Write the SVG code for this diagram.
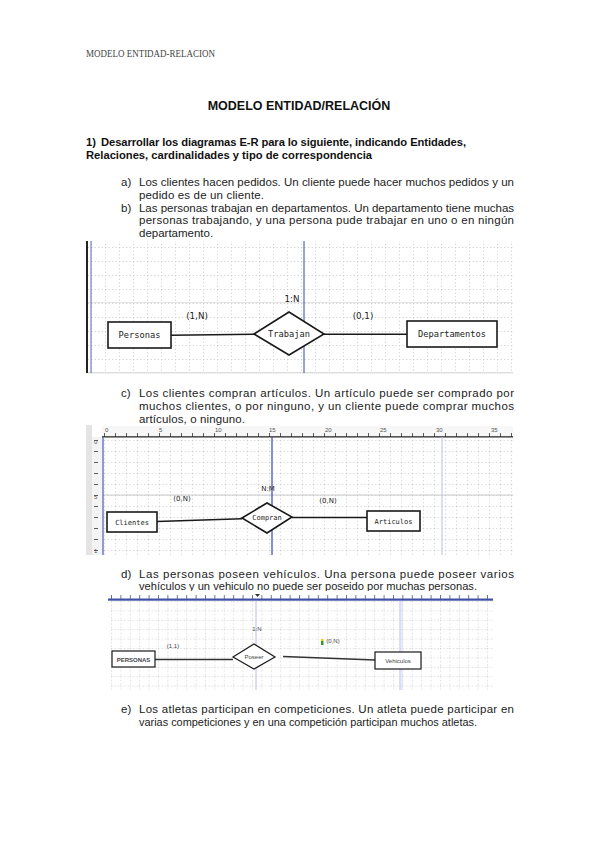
<svg xmlns="http://www.w3.org/2000/svg" width="599" height="848" viewBox="0 0 599 848">
<style>
.hdr{font-family:"Liberation Serif",serif;font-size:9.5px;fill:#444}
.ttl{font-family:"Liberation Sans",Arial,sans-serif;font-size:12.5px;font-weight:bold;fill:#111}
.q{font-family:"Liberation Sans",Arial,sans-serif;font-size:11.2px;font-weight:bold;fill:#111}
.p{font-family:"Liberation Sans",Arial,sans-serif;font-size:11.5px;fill:#222}
.m1{font-family:"DejaVu Sans Mono",monospace;font-size:8.7px;fill:#222}
.l1{font-family:"DejaVu Sans","DejaVu Sans Mono",sans-serif;font-size:8.7px;fill:#222}
.m2{font-family:"DejaVu Sans Mono",monospace;font-size:7px;fill:#222}
.l2{font-family:"DejaVu Sans",sans-serif;font-size:7px;fill:#222}
.s3{font-family:"Liberation Sans",Arial,sans-serif;font-size:6px;fill:#444}
.rn{font-family:"Liberation Sans",Arial,sans-serif;font-size:6px;fill:#555}
.ent{fill:#fff;stroke:#1a1a1a;stroke-width:1.6}
.ent3{fill:#fff;stroke:#1a1a1a;stroke-width:1.2}
.con{fill:none;stroke:#1a1a1a;stroke-width:1.6}
.con3{fill:none;stroke:#333;stroke-width:1.3}
</style>
<defs>
<pattern id="g1" x="91" y="247" width="14" height="14" patternUnits="userSpaceOnUse">
<path d="M0 0.5H14M0.5 0V14" fill="none" stroke="#c8c8c8" stroke-width="0.7" stroke-dasharray="1.5 2"/>
</pattern>
<pattern id="g2" x="104" y="440" width="11" height="11" patternUnits="userSpaceOnUse">
<path d="M0 0.5H11M0.5 0V11" fill="none" stroke="#cfcfcf" stroke-width="0.7" stroke-dasharray="1.5 2"/>
</pattern>
<pattern id="g3" x="111" y="601" width="9.4" height="9.4" patternUnits="userSpaceOnUse">
<path d="M0 0.5H9.4M0.5 0V9.4" fill="none" stroke="#d0d0d0" stroke-width="0.7" stroke-dasharray="1.5 2"/>
</pattern>
<pattern id="tk2" x="104" y="426" width="11" height="11" patternUnits="userSpaceOnUse">
<path d="M0.5 7V11" stroke="#333" stroke-width="0.8"/>
</pattern>
<pattern id="tk2v" x="0" y="440" width="11" height="11" patternUnits="userSpaceOnUse">
<path d="M6 0.5H10" stroke="#333" stroke-width="0.8"/>
</pattern>
<pattern id="tk3" x="111" y="591" width="9.4" height="8" patternUnits="userSpaceOnUse">
<path d="M0.5 4V8" stroke="#333" stroke-width="0.7"/>
</pattern>
<pattern id="tk3v" x="0" y="601" width="9.4" height="9.4" patternUnits="userSpaceOnUse">
<path d="M0 0.5H2.5" stroke="#333" stroke-width="0.7"/>
</pattern>
<pattern id="tk1v" x="0" y="247" width="7" height="7" patternUnits="userSpaceOnUse">
<path d="M0 0.5H3" stroke="#222" stroke-width="0.8"/>
</pattern>
</defs>

<rect width="599" height="848" fill="#fff"/>

<!-- page text -->
<text class="hdr" x="86" y="56.5" textLength="129" lengthAdjust="spacingAndGlyphs">MODELO ENTIDAD-RELACION</text>
<text class="ttl" x="299" y="110" text-anchor="middle">MODELO ENTIDAD/RELACIÓN</text>
<text class="q" x="86" y="146">1)</text>
<text class="q" x="101" y="146" textLength="365" lengthAdjust="spacing">Desarrollar los diagramas E-R para lo siguiente, indicando Entidades,</text>
<text class="q" x="86" y="159">Relaciones, cardinalidades y tipo de correspondencia</text>

<text class="p" x="121" y="186">a)</text>
<text class="p" x="139" y="186" textLength="375" lengthAdjust="spacing">Los clientes hacen pedidos. Un cliente puede hacer muchos pedidos y un</text>
<text class="p" x="139" y="198.5" textLength="125" lengthAdjust="spacing">pedido es de un cliente.</text>
<text class="p" x="121" y="211.5">b)</text>
<text class="p" x="139" y="211.5" textLength="375" lengthAdjust="spacing">Las personas trabajan en departamentos. Un departamento tiene muchas</text>
<text class="p" x="139" y="224" textLength="375" lengthAdjust="spacing">personas trabajando, y una persona pude trabajar en uno o en ningún</text>
<text class="p" x="139" y="236.5">departamento.</text>

<text class="p" x="121" y="397">c)</text>
<text class="p" x="139" y="397" textLength="375" lengthAdjust="spacing">Los clientes compran artículos. Un artículo puede ser comprado por</text>
<text class="p" x="139" y="410" textLength="375" lengthAdjust="spacing">muchos clientes, o por ninguno, y un cliente puede comprar muchos</text>
<text class="p" x="139" y="422.5" textLength="106" lengthAdjust="spacing">artículos, o ninguno.</text>

<text class="p" x="121" y="578">d)</text>
<text class="p" x="139" y="578" textLength="375" lengthAdjust="spacing">Las personas poseen vehículos. Una persona puede poseer varios</text>
<text class="p" x="139" y="590" textLength="338" lengthAdjust="spacingAndGlyphs">vehículos y un vehiculo no puede ser poseido por muchas personas.</text>

<text class="p" x="121" y="713">e)</text>
<text class="p" x="139" y="713" textLength="375" lengthAdjust="spacing">Los atletas participan en competiciones. Un atleta puede participar en</text>
<text class="p" x="139" y="726" textLength="338" lengthAdjust="spacingAndGlyphs">varias competiciones y en una competición participan muchos atletas.</text>

<!-- ============ Diagram 1 background ============ -->
<g id="canvas1">
<rect x="88" y="241" width="425" height="132" fill="url(#g1)"/>
<line x1="88" y1="302.5" x2="513" y2="302.5" stroke="#dcdcdc" stroke-width="0.8"/>
<line x1="88" y1="372.8" x2="513" y2="372.8" stroke="#cfcfcf" stroke-width="1"/>
<rect x="86" y="241" width="2" height="132" fill="#222"/>
<rect x="88" y="241" width="3" height="132" fill="url(#tk1v)"/>
<line x1="91" y1="241" x2="91" y2="373" stroke="#5a64c0" stroke-width="1"/>
<line x1="304" y1="241" x2="304" y2="373" stroke="#3a44b0" stroke-width="1"/>
</g>

<!-- ============ Diagram 2 background ============ -->
<g id="canvas2">
<rect x="86" y="425" width="427" height="130" fill="#fff"/>
<rect x="86" y="425" width="6" height="130" fill="#e4e4e4"/>
<rect x="92" y="437" width="10" height="118" fill="#f4f4f4"/>
<rect x="92" y="437" width="10" height="118" fill="url(#tk2v)"/>
<rect x="102" y="426" width="411" height="11" fill="#f7f7f7"/>
<rect x="102" y="426" width="411" height="11" fill="url(#tk2)"/>
<line x1="102" y1="436.8" x2="513" y2="436.8" stroke="#222" stroke-width="1.2"/>
<rect x="103" y="437" width="410" height="118" fill="url(#g2)"/>
<line x1="103" y1="495" x2="513" y2="495" stroke="#c8c8c8" stroke-width="1"/>
<line x1="103" y1="437" x2="103" y2="555" stroke="#4a54b8" stroke-width="1.2"/>
<line x1="272" y1="437" x2="272" y2="555" stroke="#3a44b0" stroke-width="1.2"/>
<line x1="442" y1="437" x2="442" y2="555" stroke="#c4c8ee" stroke-width="1.2"/>
<text class="rn" x="105" y="432">0</text>
<text class="rn" x="159" y="432">5</text>
<text class="rn" x="215" y="432">10</text>
<text class="rn" x="269" y="432">15</text>
<text class="rn" x="325" y="432">20</text>
<text class="rn" x="380" y="432">25</text>
<text class="rn" x="436" y="432">30</text>
<text class="rn" x="491" y="432">35</text>
<text class="rn" x="94" y="444">0</text>
<text class="rn" x="94" y="499">5</text>
<text class="rn" x="94" y="553">1</text>
</g>

<!-- ============ Diagram 3 background ============ -->
<g id="canvas3">
<rect x="108" y="591" width="385" height="99" fill="#fff"/>
<rect x="111" y="591" width="382" height="8" fill="url(#tk3)"/>
<rect x="108" y="598.5" width="385" height="2.2" fill="#4050a8"/>
<rect x="111" y="601" width="382" height="89" fill="url(#g3)"/>
<rect x="108" y="601" width="3" height="89" fill="url(#tk3v)"/>
<line x1="256" y1="601" x2="256" y2="690" stroke="#b8bdf0" stroke-width="1"/>
<line x1="400" y1="601" x2="400" y2="690" stroke="#b8bdf0" stroke-width="1"/>
<line x1="402" y1="601" x2="402" y2="690" stroke="#d4d7f4" stroke-width="1"/>
<path d="M255 594l2.5 3l2.5-3z" fill="#333"/>
</g>

<!-- ============ Connectors ============ -->
<g id="connectors">
<path class="con" d="M171 335.3L254 334.3"/>
<path class="con" d="M324 334.3H407"/>
<path class="con" d="M157 521.5L242 518.8" stroke-width="1.4"/>
<path class="con" d="M292 517.5H367" stroke-width="1.4"/>
<path class="con3" d="M155 659.5H233"/>
<path class="con3" d="M283 656.5L375 660"/>
</g>

<!-- ============ Diagram 1 nodes ============ -->
<g id="personas1">
<rect class="ent" x="108" y="322" width="63" height="26"/>
<text class="m1" x="139.5" y="338" text-anchor="middle">Personas</text>
</g>
<g id="trabajan">
<polygon class="ent" points="254,334 289,312 324,334 289,355"/>
<text class="m1" x="289" y="337" text-anchor="middle">Trabajan</text>
</g>
<g id="departamentos">
<rect class="ent" x="407" y="321" width="90" height="26"/>
<text class="m1" x="452" y="337" text-anchor="middle">Departamentos</text>
</g>
<g id="labels1">
<text class="l1" x="292" y="302" text-anchor="middle">1:N</text>
<text class="l1" x="197" y="319" text-anchor="middle">(1,N)</text>
<text class="l1" x="363" y="319" text-anchor="middle">(0,1)</text>
</g>

<!-- ============ Diagram 2 nodes ============ -->
<g id="clientes">
<rect class="ent" x="107" y="512" width="50" height="20" stroke-width="1.4"/>
<text class="m2" x="132" y="524.5" text-anchor="middle">Clientes</text>
</g>
<g id="compran">
<polygon class="ent" points="242,518 267,503 292,517 267,533" stroke-width="1.4"/>
<text class="m2" x="267" y="520" text-anchor="middle">Compran</text>
</g>
<g id="articulos">
<rect class="ent" x="367" y="511" width="53" height="20" stroke-width="1.4"/>
<text class="m2" x="393.5" y="523.5" text-anchor="middle">Articulos</text>
</g>
<g id="labels2">
<text class="l2" x="268" y="490.5" text-anchor="middle">N:M</text>
<text class="l2" x="182" y="500.5" text-anchor="middle">(0,N)</text>
<text class="l2" x="328" y="502.5" text-anchor="middle">(0,N)</text>
</g>

<!-- ============ Diagram 3 nodes ============ -->
<g id="personas3">
<rect class="ent3" x="112" y="651" width="43" height="16"/>
<text class="s3" x="133.5" y="661.5" text-anchor="middle" font-size="5.3" font-weight="bold" fill="#333">PERSONAS</text>
</g>
<g id="poseer">
<polygon class="ent3" points="233,657 254,644 275,657 254,669"/>
<text class="s3" x="254" y="659" text-anchor="middle" font-size="5" fill="#333">Poseer</text>
</g>
<g id="vehiculos">
<rect class="ent3" x="375" y="652" width="46" height="17"/>
<text class="s3" x="398" y="663" text-anchor="middle" font-size="6.3">Vehiculos</text>
</g>
<g id="labels3">
<text class="s3" x="257" y="631" text-anchor="middle">1:N</text>
<text class="s3" x="173" y="648" text-anchor="middle">(1,1)</text>
<rect x="321" y="641" width="2.5" height="4" fill="#2a9a2a"/>
<rect x="321" y="639" width="2.5" height="2" fill="#e6d200"/>
<text class="s3" x="333" y="643" text-anchor="middle">(0,N)</text>
</g>
</svg>
